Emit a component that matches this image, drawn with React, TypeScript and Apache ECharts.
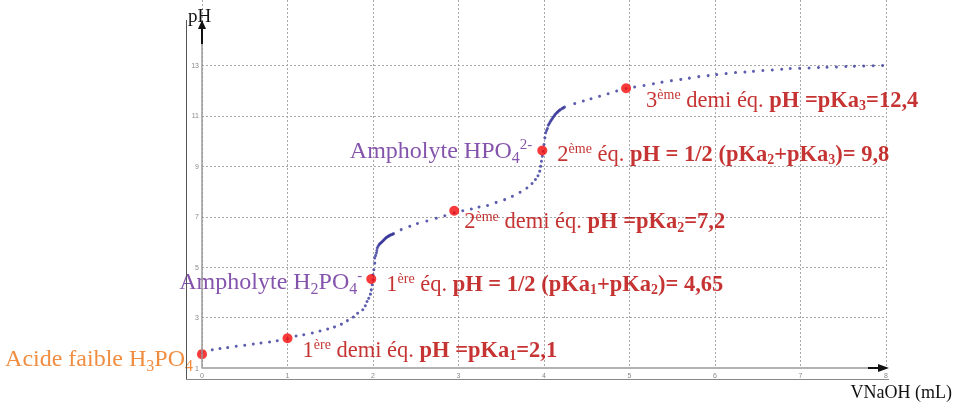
import React, { useEffect, useRef } from "react";
import * as echarts from "echarts";

// Titration curve of H3PO4 by NaOH
const curveV = [
  0.0, 0.12, 0.21, 0.3, 0.4, 0.5, 0.6, 0.69, 0.79, 0.88, 1.0, 1.1, 1.19, 1.29, 1.38, 1.47, 1.55, 1.63, 1.7, 1.77,
  1.82, 1.88, 1.91, 1.93, 1.95, 1.97, 1.98, 1.99, 2.0, 2.0, 2.01, 2.02, 2.02, 2.03, 2.04, 2.045, 2.05, 2.06, 2.07,
  2.08, 2.09, 2.1, 2.11, 2.12, 2.13, 2.14, 2.15, 2.16, 2.17, 2.18, 2.19, 2.2, 2.215, 2.23, 2.24, 2.33, 2.43, 2.52,
  2.63, 2.74, 2.84, 2.95, 3.05, 3.15, 3.24, 3.34, 3.44, 3.54, 3.63, 3.72, 3.8, 3.86, 3.9, 3.93, 3.95, 3.96, 3.97,
  3.98, 3.99, 4.0, 4.01, 4.02, 4.03, 4.04, 4.05, 4.06, 4.07, 4.08, 4.09, 4.1, 4.11, 4.12, 4.13, 4.14, 4.155, 4.165,
  4.18, 4.19, 4.21, 4.225, 4.24, 4.36, 4.46, 4.55, 4.65, 4.75, 4.85, 4.96, 5.06, 5.17, 5.28, 5.38, 5.49, 5.6, 5.7,
  5.81, 5.92, 6.02, 6.13, 6.24, 6.35, 6.45, 6.56, 6.67, 6.78, 6.88, 6.99, 7.1, 7.21, 7.31, 7.42, 7.53, 7.63, 7.74,
  7.85, 7.96,
];
const curvePH = [
  1.62, 1.72, 1.77, 1.81, 1.86, 1.9, 1.95, 1.99, 2.03, 2.08, 2.16, 2.27, 2.32, 2.39, 2.47, 2.55, 2.63, 2.74, 2.88, 3.02,
  3.17, 3.31, 3.47, 3.64, 3.77, 3.93, 4.1, 4.3, 4.5, 4.7, 4.9, 5.16, 5.36, 5.46, 5.56, 5.66, 5.76, 5.83, 5.89,
  5.93, 5.96, 5.99, 6.02, 6.06, 6.09, 6.13, 6.16, 6.19, 6.21, 6.23, 6.25, 6.27, 6.29, 6.31, 6.33, 6.49, 6.62, 6.73,
  6.83, 6.94, 7.04, 7.16, 7.24, 7.31, 7.39, 7.45, 7.57, 7.68, 7.81, 7.97, 8.14, 8.32, 8.48, 8.63, 8.81, 9.0, 9.2,
  9.4, 9.6, 9.87, 10.13, 10.33, 10.42, 10.5, 10.63, 10.69, 10.75, 10.81, 10.86, 10.91, 10.96, 11.01, 11.06, 11.1, 11.14, 11.18,
  11.22, 11.25, 11.29, 11.32, 11.35, 11.49, 11.59, 11.68, 11.78, 11.88, 11.99, 12.09, 12.15, 12.21, 12.28, 12.34, 12.4, 12.45, 12.5,
  12.56, 12.6, 12.64, 12.68, 12.72, 12.74, 12.77, 12.8, 12.82, 12.85, 12.88, 12.89, 12.9, 12.92, 12.93, 12.94, 12.96, 12.97, 12.98,
  12.99, 13.0,
];

// Remarkable points (red dots)
const eqV = [0, 1, 1.98, 2.95, 3.98, 4.96];
const eqPH = [1.55, 2.18, 4.53, 7.24, 9.63, 12.1];

const rightTexts = [
  "",
  "{r|1}{rsup|ère}{r| demi éq. }{rb|pH =pKa}{rbsub|1}{rb|=2,1}",
  "{r|1}{rsup|ère}{r| éq. }{rb|pH = 1/2 (pKa}{rbsub|1}{rb|+pKa}{rbsub|2}{rb|)= 4,65}",
  "{r|2}{rsup|ème}{r| demi éq. }{rb|pH =pKa}{rbsub|2}{rb|=7,2}",
  "{r|2}{rsup|ème}{r| éq. }{rb|pH = 1/2 (pKa}{rbsub|2}{rb|+pKa}{rbsub|3}{rb|)= 9,8}",
  "{r|3}{rsup|ème}{r| demi éq. }{rb|pH =pKa}{rbsub|3}{rb|=12,4}",
];
const leftTexts = [
  "{o|Acide faible H}{osub|3}{o|PO}{osub|4}",
  "",
  "{p|Ampholyte H}{psub|2}{p|PO}{psub|4}{psup|-}",
  "",
  "{p|Ampholyte HPO}{psub|4}{psup|2-}",
  "",
];

const xTicks = [0, 1, 2, 3, 4, 5, 6, 7, 8];
const yTickMax = 13;
const hGridValues = [3, 5, 7, 9, 11, 13];

const FONT = '"Liberation Serif", "Times New Roman", serif';
const RED = "#b80000";
const ORANGE = "#ec7010";
const PURPLE = "#652896";

const rich = {
  r: { color: RED, fontFamily: FONT, fontSize: 22.5 },
  rsup: { color: RED, fontFamily: FONT, fontSize: 14, padding: [0, 0, 9, 0] },
  rb: { color: RED, fontFamily: FONT, fontSize: 22.5, fontWeight: "bold" },
  rbsub: { color: RED, fontFamily: FONT, fontSize: 14, fontWeight: "bold", padding: [13, 0, 0, 0] },
  o: { color: ORANGE, fontFamily: FONT, fontSize: 24 },
  osub: { color: ORANGE, fontFamily: FONT, fontSize: 16, padding: [15, 0, 0, 0] },
  p: { color: PURPLE, fontFamily: FONT, fontSize: 24 },
  psub: { color: PURPLE, fontFamily: FONT, fontSize: 16, padding: [15, 0, 0, 0] },
  psup: { color: PURPLE, fontFamily: FONT, fontSize: 15, padding: [0, 0, 12, 0] },
};

const rightOffsets = [
  [0, 0],
  [4, 11],
  [4, 4],
  [-1, 10],
  [4, 3],
  [9, 11],
];
const leftOffsets = [
  [0, 4],
  [0, 0],
  [0, 2],
  [0, 0],
  [-1, 0],
  [0, 0],
];

export default function App() {
  const ref = useRef<HTMLDivElement>(null);
  useEffect(() => {
    if (!ref.current) return;
    const chart = echarts.init(ref.current, null, { renderer: "svg" });
    const gridLine = { color: "#a8a8a8", width: 1, type: [2, 2] as number[] };
    chart.setOption({
      animation: false,
      grid: { left: 202, right: 69, top: 0, bottom: 35 },
      xAxis: {
        type: "value",
        min: 0,
        max: 8,
        interval: 1,
        axisLine: { show: true, lineStyle: { color: "#9a9a9a", width: 1.5 } },
        axisTick: { show: false },
        axisLabel: {
          fontSize: 7,
          color: "#888",
          margin: 4,
          formatter: (v: number) => (xTicks.includes(v) ? String(v) : ""),
        },
        splitLine: { show: true, lineStyle: gridLine },
      },
      yAxis: {
        type: "value",
        min: 1,
        max: 15.6,
        interval: 2,
        axisLine: { show: false },
        axisTick: { show: false },
        axisLabel: {
          fontSize: 7,
          color: "#888",
          margin: 3,
          formatter: (v: number) => (v <= yTickMax ? String(v) : ""),
        },
        splitLine: { show: false },
      },
      series: [
        {
          type: "scatter",
          name: "curve",
          data: curveV.map((v, i) => [v, curvePH[i]]),
          symbolSize: 3,
          itemStyle: { color: "#35359a" },
          z: 3,
          markLine: {
            silent: true,
            symbol: "none",
            label: { show: false },
            lineStyle: gridLine,
            data: hGridValues.map((y) => ({ yAxis: y })),
            z: 1,
          },
        },
        {
          type: "scatter",
          name: "left labels",
          data: eqV.map((v, i) => ({
            value: [v, eqPH[i]],
            label: {
              show: leftTexts[i] !== "",
              position: "left",
              distance: 4,
              offset: leftOffsets[i],
              formatter: leftTexts[i],
              rich,
            },
          })),
          symbolSize: 10,
          itemStyle: { color: "rgba(0,0,0,0)" },
          z: 4,
        },
        {
          type: "scatter",
          name: "points",
          data: eqV.map((v, i) => ({
            value: [v, eqPH[i]],
            label: {
              show: rightTexts[i] !== "",
              position: "right",
              distance: 6,
              offset: rightOffsets[i],
              formatter: rightTexts[i],
              rich,
            },
          })),
          symbolSize: 10,
          itemStyle: { color: "#f50a0a" },
          z: 5,
        },
      ],
    });

    const [x0, y0] = chart.convertToPixel({ gridIndex: 0 }, [0, 1]) as number[];
    const [x8] = chart.convertToPixel({ gridIndex: 0 }, [8, 1]) as number[];
    const yTip = 20;
    chart.setOption({
      graphic: [
        { type: "line", shape: { x1: x0, y1: y0, x2: x0, y2: yTip + 6 }, style: { stroke: "#9a9a9a", lineWidth: 1.5 }, z: 10 },
        { type: "line", shape: { x1: x0, y1: 44, x2: x0, y2: yTip + 6 }, style: { stroke: "#111", lineWidth: 2 }, z: 11 },
        { type: "polygon", shape: { points: [[x0 - 4, yTip + 9], [x0 + 4, yTip + 9], [x0, yTip]] }, style: { fill: "#111" }, z: 11 },
        { type: "line", shape: { x1: x8 - 18, y1: y0, x2: x8 - 4, y2: y0 }, style: { stroke: "#111", lineWidth: 2 }, z: 11 },
        { type: "polygon", shape: { points: [[x8 - 8, y0 - 4], [x8 - 8, y0 + 4], [x8 + 3, y0]] }, style: { fill: "#111" }, z: 11 },
        { type: "line", shape: { x1: 186.5, y1: 20, x2: 186.5, y2: 379.5 }, style: { stroke: "#555", lineWidth: 1 }, z: 10 },
        { type: "line", shape: { x1: 186, y1: 379.5, x2: 889, y2: 379.5 }, style: { stroke: "#888", lineWidth: 1 }, z: 10 },
        { type: "text", left: 188, top: 6, style: { text: "pH", font: `19px ${FONT}`, fill: "#111" }, z: 12 },
        { type: "text", right: 3, top: 383, style: { text: "VNaOH (mL)", font: `18px ${FONT}`, fill: "#111" }, z: 12 },
      ],
    });
    return () => chart.dispose();
  }, []);
  return <div ref={ref} style={{ position: "fixed", left: 0, top: 0, width: 955, height: 403 }} />;
}
